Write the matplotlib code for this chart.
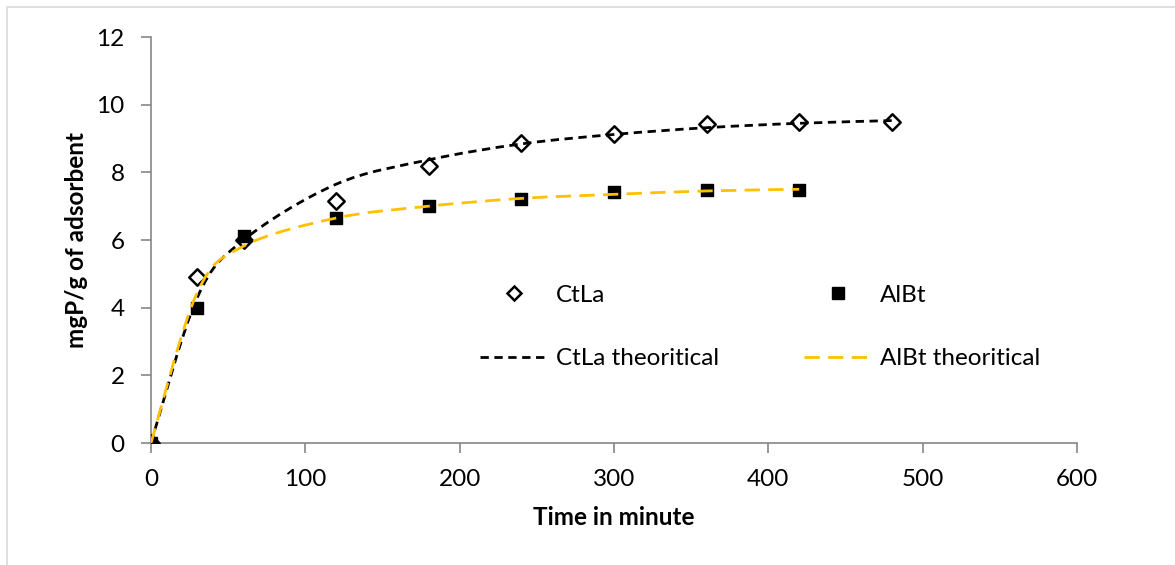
import matplotlib
matplotlib.use("Agg")
import matplotlib.pyplot as plt
import numpy as np
from matplotlib.path import Path
from matplotlib.patches import PathPatch, Rectangle
from matplotlib.lines import Line2D

plt.rcParams["font.family"] = ["Lato", "DejaVu Sans"]

# data
time_ctla = [0, 30, 60, 120, 180, 240, 300, 360, 420, 480]
q_ctla = [0, 4.9, 6.0, 7.15, 8.2, 8.86, 9.12, 9.42, 9.5, 9.5]
time_albt = [0, 30, 60, 120, 180, 240, 300, 360, 420]
q_albt = [0, 4.0, 6.12, 6.66, 7.0, 7.22, 7.42, 7.47, 7.47]
q_ctla_theo = [0, 4.3, 6.0, 7.65, 8.37, 8.84, 9.12, 9.32, 9.45, 9.53]
q_albt_theo = [0, 4.45, 5.82, 6.65, 7.0, 7.23, 7.35, 7.45, 7.5]

x_ticks = [0, 100, 200, 300, 400, 500, 600]
y_ticks = [0, 2, 4, 6, 8, 10, 12]

AXIS_GRAY = "#868686"
ORANGE = "#FFC000"
FS = 17.5
BLACK_DASH = (0, (3, 2))
ORANGE_DASH = (0, (5.5, 3))


def smooth_path(xs, ys):
    # Excel-like smoothed line: Catmull-Rom segments as cubic Beziers
    pts = np.column_stack([xs, ys]).astype(float)
    verts = [pts[0]]
    codes = [Path.MOVETO]
    n = len(pts)
    for i in range(n - 1):
        p0 = pts[i - 1] if i > 0 else pts[i]
        p1 = pts[i]
        p2 = pts[i + 1]
        p3 = pts[i + 2] if i + 2 < n else pts[i + 1]
        c1 = p1 + (p2 - p0) / 6.0
        c2 = p2 - (p3 - p1) / 6.0
        verts += [c1, c2, p2]
        codes += [Path.CURVE4] * 3
    return Path(verts, codes)


fig = plt.figure(figsize=(11.75, 5.65), dpi=100)
ax = fig.add_axes([0.1285, 0.2159, 0.7881, 0.7186])

ax.scatter(time_ctla, q_ctla, marker="D", s=70, facecolors="white",
           edgecolors="black", linewidths=1.8, zorder=3)
ax.scatter(time_albt, q_albt, marker="s", s=75, color="black", zorder=3)

ax.add_patch(PathPatch(smooth_path(time_ctla, q_ctla_theo), fill=False,
                       edgecolor="black", lw=2, linestyle=BLACK_DASH,
                       zorder=4))
ax.add_patch(PathPatch(smooth_path(time_albt, q_albt_theo), fill=False,
                       edgecolor=ORANGE, lw=2, linestyle=ORANGE_DASH,
                       zorder=4))

ax.set_xlim(0, 600)
ax.set_ylim(0, 12)
ax.set_xticks(x_ticks)
ax.set_yticks(y_ticks)
for s in ["top", "right"]:
    ax.spines[s].set_visible(False)
for s in ["left", "bottom"]:
    ax.spines[s].set_color(AXIS_GRAY)
    ax.spines[s].set_linewidth(1.2)
ax.tick_params(axis="both", direction="out", length=7, width=1.2,
               color=AXIS_GRAY, labelsize=FS)
ax.tick_params(axis="x", pad=12)
ax.tick_params(axis="y", pad=12)
ax.set_xlabel("Time in minute", fontsize=FS, fontweight="bold", labelpad=11)
ax.set_ylabel("mgP/g of adsorbent", fontsize=FS, fontweight="bold",
              labelpad=6)

handles = [
    Line2D([], [], ls="none", marker="D", ms=7, mfc="white", mec="black",
           mew=1.8),
    Line2D([], [], color="black", lw=2, ls=BLACK_DASH),
    Line2D([], [], ls="none", marker="s", ms=8, color="black"),
    Line2D([], [], color=ORANGE, lw=2, ls=ORANGE_DASH),
]
labels = ["CtLa", "CtLa theoritical", "AlBt", "AlBt theoritical"]
fig.legend(handles, labels, ncol=2, frameon=False, fontsize=FS,
           loc="center", bbox_to_anchor=(760 / 1175, 1 - 327 / 565),
           handlelength=2.8, handletextpad=0.33, columnspacing=3.5,
           labelspacing=1.75)

# chart area border (left and top edges visible)
fig.patches.append(Rectangle((7 / 1175, -0.1), 1.2, 1 - 7 / 565 + 0.1,
                             transform=fig.transFigure, fill=False,
                             edgecolor="#d9d9d9", lw=1.2))

fig.savefig("out.png", dpi=100, facecolor="white")
